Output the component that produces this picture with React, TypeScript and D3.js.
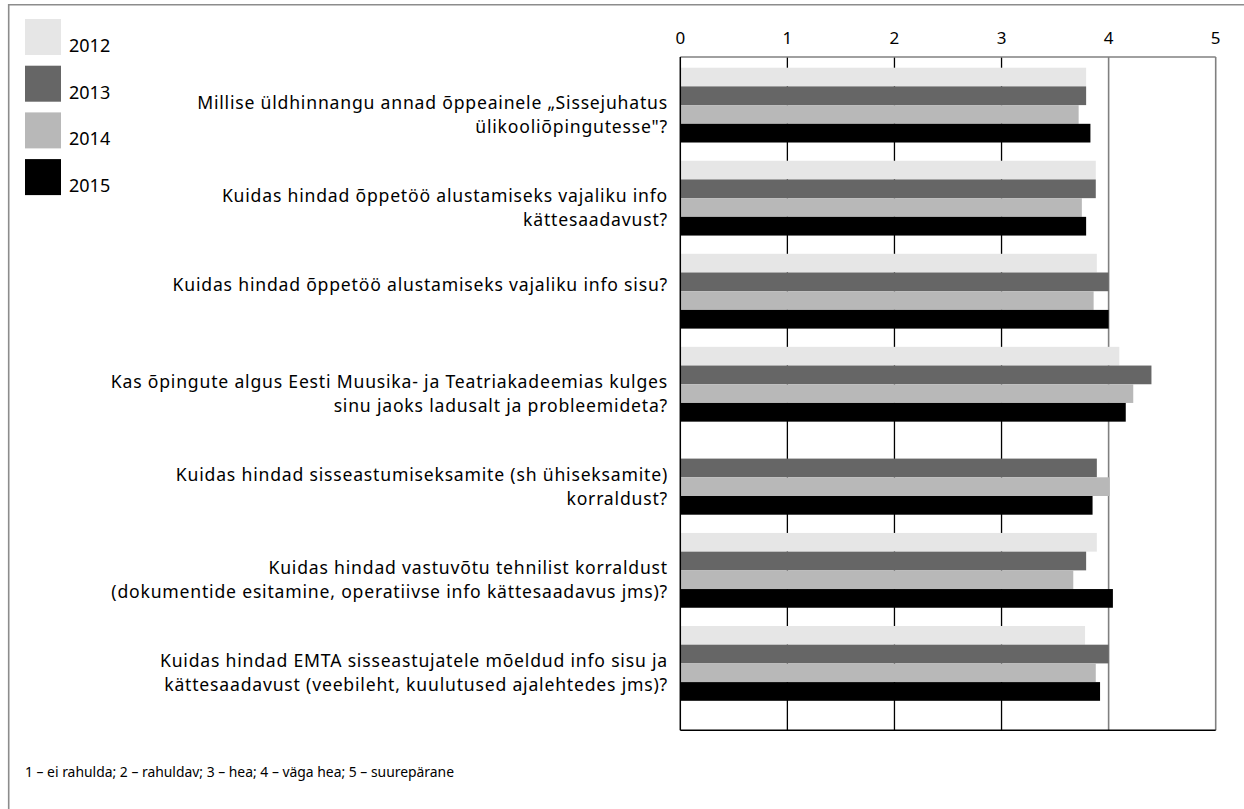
import React from "react";
import * as d3 from "d3";

const years = ["2012", "2013", "2014", "2015"];
const colors = ["#e6e6e6", "#666666", "#b8b8b8", "#000000"];

const questions: string[][] = [
  ["Millise üldhinnangu annad õppeainele „Sissejuhatus", "ülikooliõpingutesse\"?"],
  ["Kuidas hindad õppetöö alustamiseks vajaliku info", "kättesaadavust?"],
  ["Kuidas hindad õppetöö alustamiseks vajaliku info sisu?"],
  ["Kas õpingute algus Eesti Muusika- ja Teatriakadeemias kulges", "sinu jaoks ladusalt ja probleemideta?"],
  ["Kuidas hindad sisseastumiseksamite (sh ühiseksamite)", "korraldust?"],
  ["Kuidas hindad vastuvõtu tehnilist korraldust", "(dokumentide esitamine, operatiivse info kättesaadavus jms)?"],
  ["Kuidas hindad EMTA sisseastujatele mõeldud info sisu ja", "kättesaadavust (veebileht, kuulutused ajalehtedes jms)?"],
];

const v2012 = [3.79, 3.88, 3.89, 4.1, null, 3.89, 3.78];
const v2013 = [3.79, 3.88, 4.0, 4.4, 3.89, 3.79, 4.0];
const v2014 = [3.72, 3.75, 3.86, 4.23, 4.01, 3.67, 3.88];
const v2015 = [3.83, 3.79, 4.0, 4.16, 3.85, 4.04, 3.92];
const series = [v2012, v2013, v2014, v2015];

const ticks = [0, 1, 2, 3, 4, 5];
const footnote = "1 – ei rahulda; 2 – rahuldav; 3 – hea; 4 – väga hea; 5 – suurepärane";

const FONT = "'Noto Sans', 'Open Sans', sans-serif";

export default function App() {
  const left = 680.3, right = 1215.7, top = 57, bottom = 730.3;
  const x = d3.scaleLinear().domain([0, 5]).range([left, right]);
  const idx = questions.map((_, i) => String(i));
  const y = d3.scaleBand().domain(idx).range([67.7, 700.8]).paddingInner(0.196).paddingOuter(0);
  const yInner = d3.scaleBand().domain(years).range([0, y.bandwidth()]);

  return (
    <svg width={1244} height={809} style={{ position: "absolute", left: 0, top: 0, background: "#fff" }} fontFamily={FONT}>
      <rect x={0} y={0} width={1244} height={809} fill="#fff" />
      <path d={`M8.7,830 V4.7 H1260`} fill="none" stroke="#8c8c8c" strokeWidth={1.6} />

      {/* gridlines */}
      {ticks.slice(1).map((t) => (
        <line key={t} x1={x(t)} x2={x(t)} y1={top} y2={bottom}
          stroke={t >= 4 ? "#808080" : "#000"} strokeWidth={t >= 4 ? 1.6 : 1.3} />
      ))}
      <line x1={left} x2={right} y1={top} y2={top} stroke="#808080" strokeWidth={1.3} />

      {/* bars */}
      {series.map((vals, si) =>
        vals.map((v, qi) =>
          v == null ? null : (
            <rect key={`${si}-${qi}`} x={x(0)} y={(y(String(qi)) as number) + (yInner(years[si]) as number)}
              width={x(v) - x(0)} height={yInner.bandwidth()} fill={colors[si]} />
          )
        )
      )}

      <line x1={left} x2={left} y1={top} y2={bottom} stroke="#000" strokeWidth={1.5} />
      <line x1={left} x2={right} y1={bottom} y2={bottom} stroke="#000" strokeWidth={1.5} />

      {/* tick labels */}
      {ticks.map((t) => (
        <text key={t} x={x(t)} y={37} textAnchor="middle" dominantBaseline="central" fontSize={17} fill="#000">{t}</text>
      ))}

      {/* category labels */}
      {questions.map((lines, qi) => {
        const c = (y(String(qi)) as number) + y.bandwidth() / 2;
        const start = lines.length === 1 ? c - 7 : c - 3.5;
        return lines.map((ln, li) => (
          <text key={`${qi}-${li}`} x={668} y={start + li * 24} textAnchor="end" dominantBaseline="central"
            fontSize={17.6} letterSpacing={0.8} fill="#000">{ln}</text>
        ));
      })}

      {/* legend */}
      {years.map((yr, i) => (
        <g key={yr}>
          <rect x={25} y={19 + i * 46.7} width={36} height={36} fill={colors[i]} />
          <text x={69} y={19 + i * 46.7 + 26} dominantBaseline="central" fontSize={18} fill="#000">{yr}</text>
        </g>
      ))}

      <text x={25} y={771} dominantBaseline="central" fontSize={13.9} fill="#000">{footnote}</text>
    </svg>
  );
}
